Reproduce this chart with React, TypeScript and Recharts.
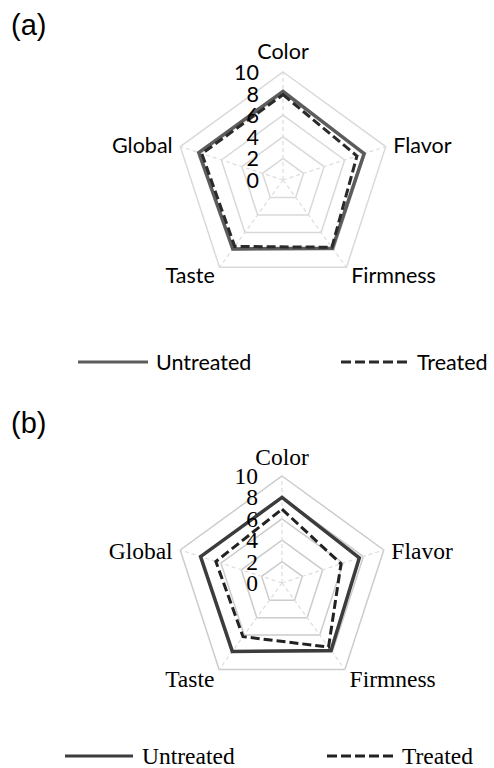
import React from 'react';
import { RadarChart, Radar, PolarGrid, PolarAngleAxis, PolarRadiusAxis, Legend } from 'recharts';

const categories = ['Color', 'Flavor', 'Firmness', 'Taste', 'Global'];
const untreatedA = [8.2, 7.9, 7.8, 7.9, 8.2];
const treatedA = [7.9, 7.2, 7.7, 7.6, 7.9];
const untreatedB = [8.0, 7.6, 7.8, 7.9, 8.0];
const treatedB = [6.9, 5.8, 7.4, 6.2, 6.5];
const radiusTicks = [0, 2, 4, 6, 8, 10];
const seriesNames = ['Untreated', 'Treated'];
const panelLabels = ['(a)', '(b)'];

function buildRows(u: number[], t: number[]) {
  return categories.map((c, i) => ({ category: c, [seriesNames[0]]: u[i], [seriesNames[1]]: t[i] }));
}

type PanelStyle = {
  font: string;
  fontSize: number;
  solid: string;
  dashed: string;
  solidWidth: number;
  grid: string;
  cx: number;
  cy: number;
  r: number;
  top: number;
  height: number;
  labelDy: number[];
  legendY: number;
  legendX: number[];
};

const styleA: PanelStyle = {
  font: 'Lato, sans-serif',
  fontSize: 21.5,
  solid: '#5c5c5c',
  dashed: '#2a2a2a',
  solidWidth: 3.5,
  grid: '#d9d9d9',
  cx: 283,
  cy: 180,
  r: 108,
  top: 0,
  height: 395,
  labelDy: [-13, 1, 1, 1, 1],
  legendY: 362,
  legendX: [78, 148, 156, 341, 410, 417],
};

const styleB: PanelStyle = {
  font: '"Liberation Serif", "Times New Roman", serif',
  fontSize: 23.5,
  solid: '#3c3c3c',
  dashed: '#222222',
  solidWidth: 3.5,
  grid: '#cccccc',
  cx: 282,
  cy: 188,
  r: 107,
  top: 395,
  height: 373,
  labelDy: [-11, 4, 3, 3, 4],
  legendY: 361,
  legendX: [65, 133, 142, 327, 397, 402],
};

function Panel({ u, t, s, label }: { u: number[]; t: number[]; s: PanelStyle; label: string }) {
  const data = buildRows(u, t);
  const AngleTick = (props: any) => {
    const { x, y, payload, textAnchor } = props;
    const idx = categories.indexOf(payload.value);
    return (
      <text
        x={x}
        y={y + (s.labelDy[idx] || 0)}
        textAnchor={textAnchor}
        dominantBaseline="central"
        fontFamily={s.font}
        fontSize={s.fontSize}
        fill="#000"
      >
        {payload.value}
      </text>
    );
  };
  const RadiusTick = (props: any) => {
    const { x, y, payload } = props;
    return (
      <text
        x={x - 24}
        y={y}
        textAnchor="end"
        dominantBaseline="central"
        fontFamily={s.font}
        fontSize={s.fontSize}
        fill="#000"
      >
        {payload.value}
      </text>
    );
  };
  const LegendContent = () => {
    const [a1, a2, at, b1, b2, bt] = s.legendX;
    const y = 15;
    return (
      <svg width={494} height={30} style={{ display: 'block' }}>
        <line x1={a1} x2={a2} y1={y} y2={y} stroke={s.solid} strokeWidth={3} />
        <text x={at} y={y} dominantBaseline="central" fontFamily={s.font} fontSize={s.fontSize} fill="#000">
          {seriesNames[0]}
        </text>
        <line x1={b1} x2={b2} y1={y} y2={y} stroke={s.dashed} strokeWidth={3} strokeDasharray="10 4" />
        <text x={bt} y={y} dominantBaseline="central" fontFamily={s.font} fontSize={s.fontSize} fill="#000">
          {seriesNames[1]}
        </text>
      </svg>
    );
  };
  return (
    <div style={{ position: 'absolute', left: 0, top: s.top, width: 494, height: s.height }}>
      <RadarChart
        width={494}
        height={s.height}
        data={data}
        cx={s.cx}
        cy={s.cy}
        outerRadius={s.r}
        margin={{ top: 0, right: 0, bottom: 0, left: 0 }}
      >
        <PolarGrid gridType="polygon" stroke={s.grid} strokeWidth={1.5} radialLines={false} />
        <PolarGrid gridType="polygon" stroke="#dddddd" strokeWidth={1.2} strokeDasharray="4 3" polarRadius={[]} />
        <PolarAngleAxis dataKey="category" tick={AngleTick} tickLine={false} axisLine={false} />
        <Radar
          dataKey={seriesNames[0]}
          stroke={s.solid}
          strokeWidth={s.solidWidth}
          fill="none"
          fillOpacity={0}
          dot={false}
          isAnimationActive={false}
        />
        <Radar
          dataKey={seriesNames[1]}
          stroke={s.dashed}
          strokeWidth={3}
          strokeDasharray="9 4"
          fill="none"
          fillOpacity={0}
          dot={false}
          isAnimationActive={false}
        />
        <PolarRadiusAxis
          angle={90}
          domain={[radiusTicks[0], radiusTicks[radiusTicks.length - 1]]}
          ticks={radiusTicks as any}
          tickCount={radiusTicks.length}
          axisLine={false}
          tick={RadiusTick}
        />
        <Legend
          content={LegendContent}
          wrapperStyle={{ position: 'absolute', left: 0, top: s.legendY - 15, width: 494, height: 30 }}
        />
      </RadarChart>
      <div
        style={{
          position: 'absolute',
          left: 11,
          top: label === '(a)' ? 8 : 11,
          fontFamily: '"Liberation Sans", Arial, sans-serif',
          fontSize: 29,
          lineHeight: '34px',
          color: '#000',
        }}
      >
        {label}
      </div>
    </div>
  );
}

export default function App() {
  return (
    <div style={{ position: 'absolute', left: 0, top: 0, width: 494, height: 768, background: '#fff' }}>
      <Panel u={untreatedA} t={treatedA} s={styleA} label={panelLabels[0]} />
      <Panel u={untreatedB} t={treatedB} s={styleB} label={panelLabels[1]} />
    </div>
  );
}
